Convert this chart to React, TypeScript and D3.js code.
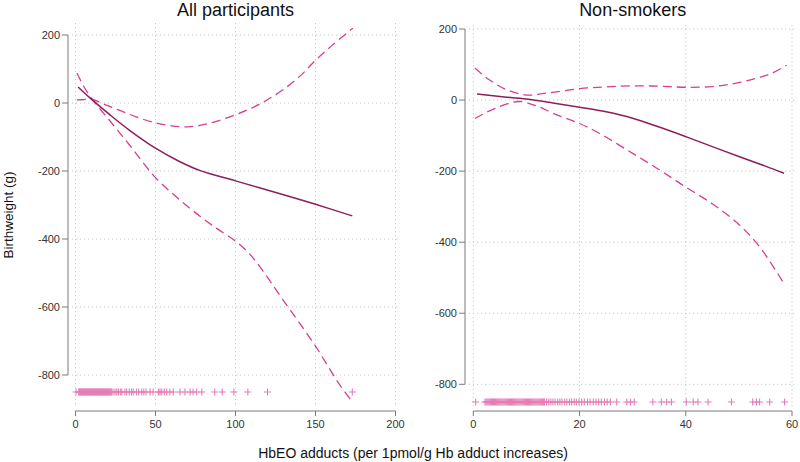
import React from "react";
import * as d3 from "d3";

// ---------- data ----------
const yTicks = [200, 0, -200, -400, -600, -800];
const leftXTicks = [0, 50, 100, 150, 200];
const rightXTicks = [0, 20, 40, 60];

const panelTitles = ["All participants", "Non-smokers"];
const yLabel = "Birthweight (g)";
const xLabel = "HbEO adducts (per 1pmol/g Hb adduct increases)";

// All participants: fitted line and confidence bounds [x, y]
const allFit: [number, number][] = [
  [1.6, 47], [9, 15], [21.6, -35], [34, -81], [49.7, -132], [65, -172], [78, -199],
  [100, -229], [130, -270], [150, -298], [173, -332],
];
const allUpper: [number, number][] = [
  [0.9, 9], [5.3, 10], [10.3, 11], [18, -4], [27.8, -22], [38, -41], [49.7, -58],
  [60, -67], [69.7, -70], [77.8, -66], [88, -54], [99.7, -35], [110, -15],
  [119.7, 9], [130, 40], [140.3, 79], [149.7, 124], [160, 168], [173.4, 220],
];
const allLower: [number, number][] = [
  [0.9, 88], [5, 50], [10.3, 12], [21.6, -53], [34, -125], [49.7, -218], [64, -280],
  [77.8, -333], [88, -368], [99.7, -405], [108, -440], [115.3, -482], [129.7, -579],
  [149.7, -713], [164, -821], [173.4, -882],
];

// Non-smokers
const nsFit: [number, number][] = [
  [0.7, 17], [5, 10], [10, 3], [15, -8], [20, -20], [25, -33], [30, -51], [35, -76],
  [40, -103], [45, -131], [50, -159], [55, -186], [58.5, -206],
];
const nsUpper: [number, number][] = [
  [0.3, 90], [3, 57], [6, 31], [10, 14], [14, 20], [20, 32], [25, 37], [30, 40],
  [35, 39], [40, 36], [45, 38], [49, 46], [53, 60], [56, 74], [59, 98],
];
const nsLower: [number, number][] = [
  [0.3, -52], [4, -24], [8.5, -4], [12, -17], [15, -37], [20, -66], [23.8, -94],
  [30, -150], [35, -196], [40, -245], [45, -292], [50, -350], [54, -415], [58.3, -512],
];

// rug of observed exposure values
const allRug = [
  0.3, 2, 2.4, 2.8, 3.2, 3.6, 4, 4.4, 4.8, 5.2, 5.6, 6, 6.4, 6.8, 7.2, 7.6, 8, 8.4,
  8.8, 9.2, 9.6, 10, 10.4, 10.8, 11.2, 11.6, 12, 12.4, 12.8, 13.2, 13.6, 14, 14.4,
  14.8, 15.2, 15.6, 16, 16.4, 16.8, 17.2, 17.6, 18, 18.4, 18.8, 19.2, 19.6, 20, 20.4,
  20.8, 21.2, 21.6, 22, 22.4, 23.4, 24.7, 25.8, 26.8, 28, 28.9, 30.9, 32, 33.6, 35,
  36.1, 38.2, 39.5, 41.4, 42.7, 44.1, 46.6, 48.5, 51.8, 52.8, 53.9, 55.5, 57, 59,
  61.1, 65.3, 68.4, 71.6, 73.5, 75.7, 78.9, 87, 91.7, 99, 107.7, 120, 173,
];
const nsRug = [
  0.45, 2.2, 2.4, 2.6, 2.8, 3, 3.2, 3.4, 3.6, 3.8, 4, 4.2, 4.4, 4.6, 4.8, 5, 5.2, 5.4,
  5.6, 5.8, 6, 6.2, 6.4, 6.6, 6.8, 7, 7.2, 7.4, 7.6, 7.8, 8, 8.2, 8.4, 8.6, 8.8, 9,
  9.2, 9.4, 9.6, 9.8, 10, 10.2, 10.4, 10.6, 10.8, 11, 11.2, 11.4, 11.6, 11.8, 12,
  12.2, 12.4, 12.6, 12.8, 13, 13.2, 13.4, 13.8, 14.2, 14.6, 15, 15.4, 15.9, 16.3,
  16.7, 17.2, 17.6, 18.1, 18.5, 19, 19.4, 19.9, 20.4, 20.9, 21.5, 22, 22.6, 23.1,
  23.6, 24.1, 24.7, 25.2, 25.8, 27, 28.9, 29.6, 30.3, 33.8, 35.4, 36.4, 37.3, 40.1,
  41.4, 42.3, 44.2, 48.6, 52.6, 53.3, 53.9, 55.8, 58.6,
];
const rugLevel = -850;

// ---------- styling ----------
const FONT = "'Liberation Sans', Arial, Helvetica, sans-serif";
const FIT_COLOR = "#8e1f5c";
const CI_COLOR = "#d93d8f";
const RUG_COLOR = "#e57db7";
const GRID_COLOR = "#c8c8c8";
const AXIS_COLOR = "#7a7a7a";
const TEXT_COLOR = "#333333";

type PanelProps = {
  title: string;
  xTicks: number[];
  xDomain: [number, number];
  xRange: [number, number];
  yRange: [number, number];
  region: { x0: number; x1: number; y0: number; y1: number };
  axisY: number;
  yAxisX: number;
  fit: [number, number][];
  upper: [number, number][];
  lower: [number, number][];
  rug: number[];
};

function Panel(p: PanelProps) {
  const x = d3.scaleLinear().domain(p.xDomain).range(p.xRange);
  const y = d3.scaleLinear().domain([-800, 200]).range(p.yRange);
  const line = d3
    .line<[number, number]>()
    .x((d) => x(d[0]))
    .y((d) => y(d[1]))
    .curve(d3.curveCatmullRom.alpha(0.5));
  const cx = (p.xRange[0] + p.xRange[1]) / 2;
  const ry = y(rugLevel);
  return (
    <g>
      <text x={cx} y={16} textAnchor="middle" fontSize={18} fill="#111" fontFamily={FONT}>
        {p.title}
      </text>
      {/* grid */}
      {yTicks.map((t) => (
        <line key={"gy" + t} x1={p.region.x0} x2={p.region.x1} y1={y(t)} y2={y(t)}
          stroke={GRID_COLOR} strokeWidth={1} strokeDasharray="1.2,2.8" />
      ))}
      {p.xTicks.map((t) => (
        <line key={"gx" + t} x1={x(t)} x2={x(t)} y1={p.region.y0} y2={p.region.y1}
          stroke={GRID_COLOR} strokeWidth={1} strokeDasharray="1.2,2.8" />
      ))}
      {/* y axis */}
      <line x1={p.yAxisX} x2={p.yAxisX} y1={y(200)} y2={y(-800)} stroke={AXIS_COLOR} strokeWidth={1} />
      {yTicks.map((t) => (
        <g key={"ty" + t}>
          <line x1={p.yAxisX - 6} x2={p.yAxisX} y1={y(t)} y2={y(t)} stroke={AXIS_COLOR} strokeWidth={1} />
          <text x={p.yAxisX - 8} y={y(t)} dy="0.35em" textAnchor="end" fontSize={11}
            fill={TEXT_COLOR} fontFamily={FONT}>{t}</text>
        </g>
      ))}
      {/* x axis */}
      <line x1={x(p.xDomain[0])} x2={x(p.xDomain[1])} y1={p.axisY} y2={p.axisY} stroke={AXIS_COLOR} strokeWidth={1} />
      {p.xTicks.map((t) => (
        <g key={"tx" + t}>
          <line x1={x(t)} x2={x(t)} y1={p.axisY} y2={p.axisY + 5} stroke={AXIS_COLOR} strokeWidth={1} />
          <text x={x(t)} y={p.axisY + 17} textAnchor="middle" fontSize={11}
            fill={TEXT_COLOR} fontFamily={FONT}>{t}</text>
        </g>
      ))}
      {/* rug */}
      {p.rug.map((v, i) => (
        <path key={"r" + i}
          d={`M${x(v) - 3.5},${ry}h7M${x(v)},${ry - 3.5}v7`}
          stroke={RUG_COLOR} strokeWidth={1.1} fill="none" />
      ))}
      {/* curves */}
      <path d={line(p.upper) || ""} fill="none" stroke={CI_COLOR} strokeWidth={1.3} strokeDasharray="9,5" />
      <path d={line(p.lower) || ""} fill="none" stroke={CI_COLOR} strokeWidth={1.3} strokeDasharray="9,5" />
      <path d={line(p.fit) || ""} fill="none" stroke={FIT_COLOR} strokeWidth={1.5} />
    </g>
  );
}

export default function App() {
  return (
    <svg width={800} height={462} style={{ position: "absolute", left: 0, top: 0, background: "#fff" }}>
      <rect width={800} height={462} fill="#fff" />
      <Panel
        title={panelTitles[0]}
        xTicks={leftXTicks}
        xDomain={[0, 200]}
        xRange={[75.5, 395.5]}
        yRange={[375, 35]}
        region={{ x0: 72, x1: 398, y0: 23, y1: 407 }}
        axisY={411}
        yAxisX={68}
        fit={allFit}
        upper={allUpper}
        lower={allLower}
        rug={allRug}
      />
      <Panel
        title={panelTitles[1]}
        xTicks={rightXTicks}
        xDomain={[0, 60]}
        xRange={[473.3, 792]}
        yRange={[384.3, 29]}
        region={{ x0: 469, x1: 796, y0: 25, y1: 408 }}
        axisY={411}
        yAxisX={465}
        fit={nsFit}
        upper={nsUpper}
        lower={nsLower}
        rug={nsRug}
      />
      <text transform="translate(13,215) rotate(-90)" textAnchor="middle" fontSize={13.5}
        fill="#111" fontFamily={FONT}>{yLabel}</text>
      <text x={413} y={458} textAnchor="middle" fontSize={14} fill="#111" fontFamily={FONT}>
        {xLabel}
      </text>
    </svg>
  );
}
